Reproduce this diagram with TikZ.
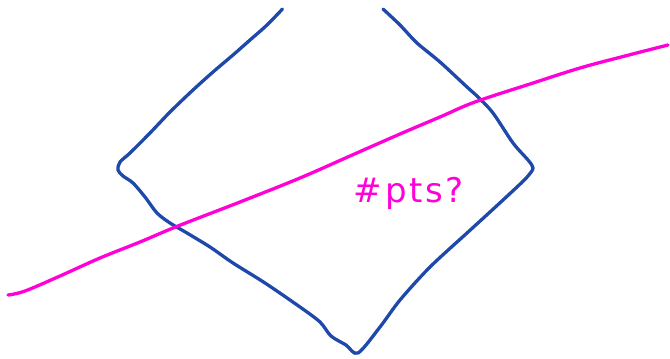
\documentclass[tikz,border=0pt]{standalone}
\usepackage{fontspec}
\newfontfamily\hand[LetterSpace=8]{DejaVu Sans}
\definecolor{penblue}{RGB}{30,72,170}
\definecolor{penmag}{RGB}{255,0,215}
\begin{document}
\begin{tikzpicture}[x=1pt,y=-1pt,
  bluepen/.style={draw=penblue,line width=3.3pt,line cap=round,line join=round},
  magpen/.style={draw=penmag,line width=3.3pt,line cap=round,line join=round}]
\useasboundingbox (0,0) rectangle (670,359);
% blue quadrilateral (cut at top)
\draw[bluepen] plot[smooth,tension=0.5] coordinates {
  (282.5,9) (267,25) (250,40) (233,55) (213,72) (193,90) (170,112) (150,133)
  (130,153) (120,162) (118,170) (123,176) (133,183) (145,197) (157,213)
  (170,223) (187,233) (210,247) (233,263) (265,283) (300,307) (320,322)
  (331,336) (346,345) (358,353) (380,327) (400,300) (430,267) (467,233)
  (490,212) (517,187) (528,176) (533,168) (528,160) (513,143) (493,113)
  (478,97) (467,87) (440,62) (417,43) (400,25) (383,9)};
% magenta line
\draw[magpen] plot[smooth,tension=0.6] coordinates {
  (8,295) (25,291) (60,276) (100,258) (140,242) (178,226) (240,202)
  (300,178) (350,156) (400,134) (440,117) (475,102) (530,84) (580,68) (625,56) (668,45)};
\node[text=penmag,font=\hand\fontsize{34}{34}\selectfont,anchor=center] (label) at (409,193) {\#pts?};
\end{tikzpicture}
\end{document}
